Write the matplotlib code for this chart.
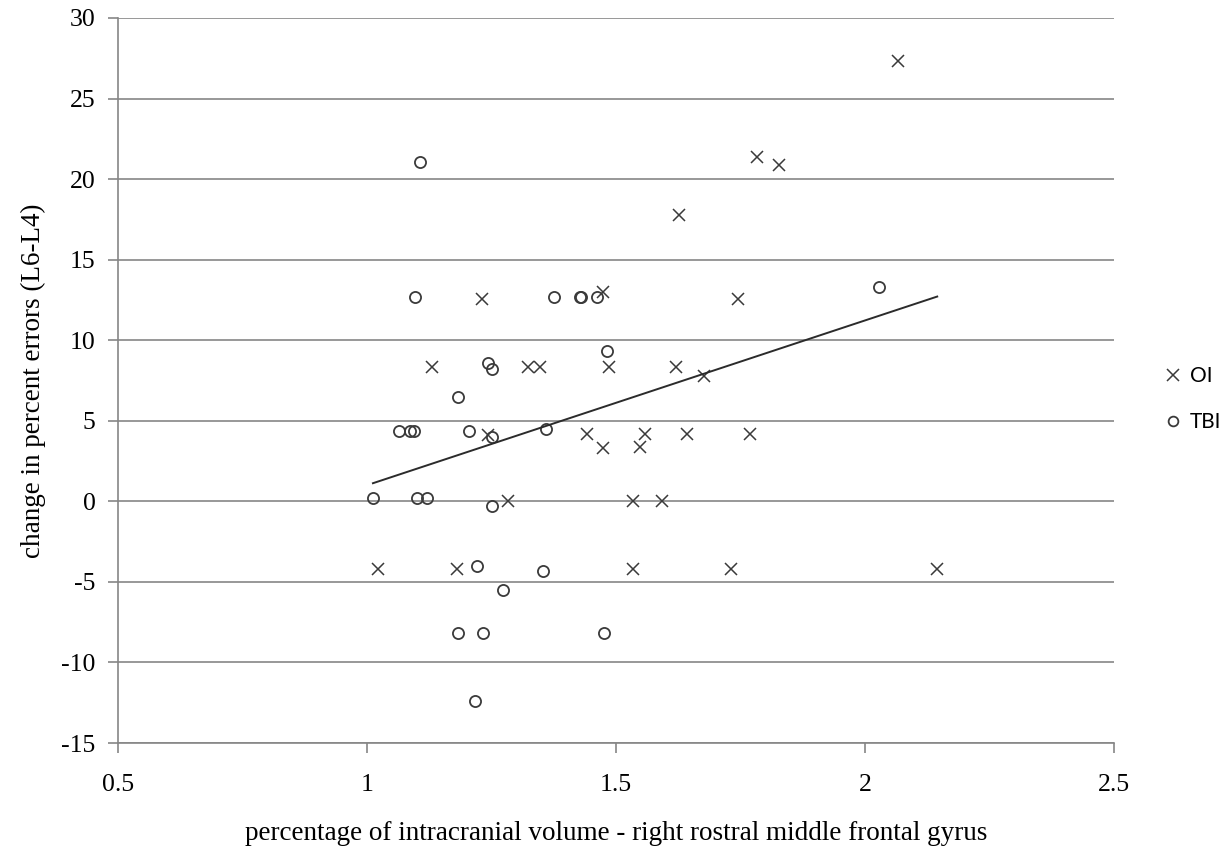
import matplotlib
matplotlib.use("Agg")
import matplotlib.pyplot as plt
from matplotlib.lines import Line2D
import numpy as np

plt.rcParams.update({
    "font.family": "Liberation Serif",
    "font.size": 16,
    "axes.unicode_minus": False,
})

# OI group (x marks)
oi_x = [2.066, 1.783, 1.827, 1.627, 1.231, 1.474, 1.745, 1.131, 1.323, 1.347,
        1.486, 1.620, 1.677, 1.243, 1.442, 1.558, 1.643, 1.769, 1.474, 1.548,
        1.283, 1.534, 1.592, 1.022, 1.181, 1.534, 1.731, 2.145]
oi_y = [27.3, 21.4, 20.9, 17.8, 12.55, 13.0, 12.55, 8.33, 8.33, 8.33,
        8.33, 8.33, 7.8, 4.1, 4.17, 4.17, 4.17, 4.17, 3.3, 3.35,
        0.0, 0.0, 0.0, -4.17, -4.17, -4.17, -4.17, -4.17]

# TBI group (open circles)
tbi_x = [1.106, 1.096, 1.376, 1.428, 1.430, 1.462, 2.028, 1.482, 1.243, 1.251,
         1.183, 1.064, 1.086, 1.094, 1.205, 1.251, 1.359, 1.012, 1.100, 1.120,
         1.251, 1.221, 1.353, 1.273, 1.183, 1.233, 1.476, 1.217]
tbi_y = [21.05, 12.7, 12.7, 12.7, 12.7, 12.7, 13.3, 9.3, 8.6, 8.2,
         6.5, 4.35, 4.35, 4.35, 4.35, 4.0, 4.5, 0.2, 0.2, 0.2,
         -0.3, -4.0, -4.3, -5.5, -8.2, -8.2, -8.2, -12.4]

x_ticks = [0.5, 1, 1.5, 2, 2.5]
x_tick_labels = ["0.5", "1", "1.5", "2", "2.5"]
y_ticks = list(range(-15, 31, 5))

fig = plt.figure(figsize=(12.3, 8.56), dpi=100)
ax = fig.add_axes([0.0959, 0.132, 0.8098, 0.847])

grey = "#868686"
ax.set_xlim(0.5, 2.5)
ax.set_ylim(-15, 30)
ax.set_xticks(x_ticks)
ax.set_xticklabels(x_tick_labels)
ax.set_yticks(y_ticks)
ax.yaxis.grid(True, color=grey, lw=1.2)
ax.set_axisbelow(True)
for s in ["top", "right"]:
    ax.spines[s].set_visible(False)
for s in ["left", "bottom"]:
    ax.spines[s].set_color(grey)
    ax.spines[s].set_linewidth(1.2)
ax.tick_params(axis="both", colors=grey, length=7, width=1.2, labelcolor="black",
               labelsize=18.5)
ax.tick_params(axis="x", pad=15)
ax.tick_params(axis="y", pad=9)

ax.plot(oi_x, oi_y, ls="none", marker="x", ms=8.5, mew=1.1, color="#3a3a3a")
ax.plot(tbi_x, tbi_y, ls="none", marker="o", ms=8, mew=1.3,
        mfc="none", mec="#3a3a3a")

# linear trend over all points
all_x = np.array(oi_x + tbi_x)
all_y = np.array(oi_y + tbi_y)
k, b = np.polyfit(all_x, all_y, 1)
xs = np.array([all_x.min(), all_x.max()])
ax.plot(xs, k * xs + b, color="#2b2b2b", lw=1.4)

ax.set_xlabel("percentage of intracranial volume - right rostral middle frontal gyrus",
              fontsize=19.5, labelpad=18)
ax.set_ylabel("change in percent errors (L6-L4)", fontsize=19.5, labelpad=11)

handles = [
    Line2D([0], [0], ls="none", marker="x", ms=8, mew=1.1, color="#3a3a3a", label="OI"),
    Line2D([0], [0], ls="none", marker="o", ms=7, mew=1.3, mfc="none",
           mec="#3a3a3a", label="TBI"),
]
fig.legend(handles=handles, loc="center left", bbox_to_anchor=(0.932, 0.534),
           frameon=False, handlelength=0.8, handletextpad=0.4, labelspacing=1.24,
           prop={"family": "Lato", "size": 15})

fig.savefig("out.png", dpi=100)
